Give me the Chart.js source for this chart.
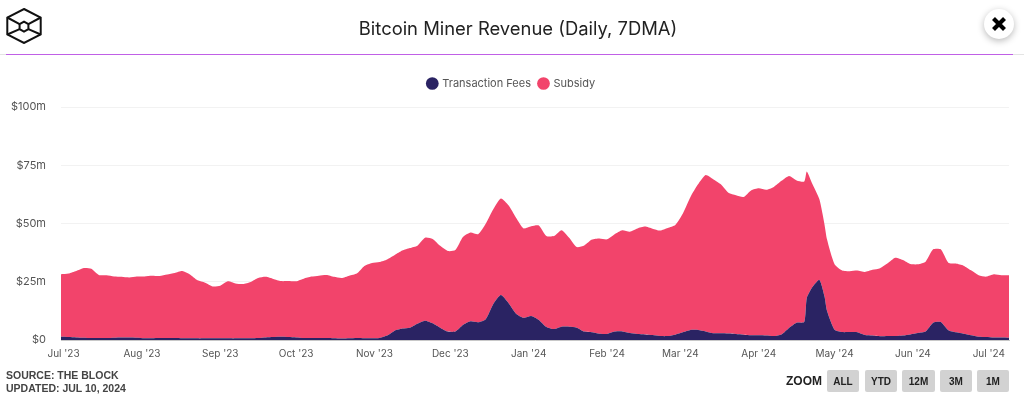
<!DOCTYPE html>
<html>
<head>
<meta charset="utf-8">
<title>Bitcoin Miner Revenue</title>
<script src="https://cdn.jsdelivr.net/npm/chart.js@4"></script>
<style>
  html,body{margin:0;padding:0;background:#fff;width:1024px;height:405px;overflow:hidden;font-family:Inter,sans-serif}
  #chart{position:absolute;left:0;top:0}
  .abs{position:absolute}
  #title{left:0;width:1036px;top:15px;text-align:center;font-size:18.4px;color:#222;line-height:26px}
  #ruleGrey{left:0;right:0;top:54px;height:1px;background:#e4e4e4}
  #rule{left:6px;width:1007px;top:53.5px;height:1.5px;background:#c060e6}
  #close{left:984px;top:9px;width:30px;height:30px;border-radius:50%;background:#fff;box-shadow:0 2px 7px rgba(0,0,0,.28)}
  #source{left:6px;top:369px;font:bold 10.5px/12.5px "Liberation Sans",sans-serif;color:#444}
  #zoomLabel{left:786px;top:374px;font:bold 12px/14px "Liberation Sans",sans-serif;color:#222}
  .btn{top:370px;height:22px;background:#d2d2d2;border-radius:2px;text-align:center;font:bold 10px/23px "Liberation Sans",sans-serif;color:#222}
</style>
</head>
<body>
<canvas id="chart" width="1024" height="405"></canvas>

<svg class="abs" style="left:6px;top:8px" width="36" height="36" viewBox="0 0 36 36" fill="none" stroke="#111" stroke-width="2">
  <path d="M18 1 L34.7 9.5 L34.7 26.5 L18 35 L1.3 26.5 L1.3 9.5 Z"/>
  <path d="M18 13.7 L22.4 16.2 L22.4 21.2 L18 23.7 L13.6 21.2 L13.6 16.2 Z"/>
  <path d="M1.3 9.5 L13.6 16.2 M34.7 9.5 L22.4 16.2 M1.3 26.5 L13.6 21.2 M34.7 26.5 L22.4 21.2"/>
</svg>
<div class="abs" id="title">Bitcoin Miner Revenue (Daily, 7DMA)</div>
<div class="abs" id="ruleGrey"></div>
<div class="abs" id="rule"></div>
<div class="abs" id="close">
  <svg width="30" height="30" viewBox="0 0 30 30" stroke="#000" stroke-width="4.2"><path d="M9.5 9.5 L20.5 20.5 M20.5 9.5 L9.5 20.5"/></svg>
</div>
<div class="abs" id="source">SOURCE: THE BLOCK<br>UPDATED: JUL 10, 2024</div>
<div class="abs" id="zoomLabel">ZOOM</div>
<div class="abs btn" style="left:827px;width:32px">ALL</div>
<div class="abs btn" style="left:865px;width:32px">YTD</div>
<div class="abs btn" style="left:902px;width:33px">12M</div>
<div class="abs btn" style="left:940px;width:32px">3M</div>
<div class="abs btn" style="left:977px;width:32px">1M</div>

<script>
// days counted from 1 Jul 2023
const days = [-1,2,5,8,11,14,17,20,23,26,29,32,35,38,41,44,47,50,53,56,59,62,65,68,71,74,77,80,83,86,89,92,95,98,101,104,107,110,113,116,119,122,125,
  128,131,134,137,140,143,146,149,152,155,158,161,164,167,170,173,176,179,182,185,188,191,194,197,200,203,206,209,212,215,218,221,224,227,230,233,236,239,242,
  245,248,251,254,257,260,263,266,269,272,275,278,281,284,287,290,293,294,296,299,301,302,305,308,311,314,317,320,323,326,329,332,335,338,341,344,347,350,353,356,359,362,365,368,371,374];

// $m
const fees = [1.4,1.3,1.1,1.0,0.9,0.9,0.9,1.0,1.1,1.1,1.0,0.8,0.8,0.9,0.9,0.9,0.8,0.8,0.7,0.7,0.7,0.7,0.7,0.7,0.8,0.8,0.9,1.1,1.3,1.4,1.3,1.1,0.9,0.9,0.9,0.9,0.8,0.6,0.7,0.9,0.8,0.8,0.9,
  1.9,4.0,4.9,5.3,7.0,8.3,7.2,5.3,3.6,3.6,6.4,8.0,7.6,8.9,15.5,19.3,15.9,11.3,9.5,10.3,8.6,5.6,4.7,5.7,5.7,5.3,3.6,3.3,2.7,2.6,3.6,3.7,3.0,2.6,2.4,2.1,1.7,1.7,2.3,
  3.3,4.3,4.3,3.7,2.9,2.9,2.8,2.6,2.3,2.0,2.0,1.9,1.7,2.4,5.2,7.4,7.7,18.0,22.3,25.8,18.8,12.6,4.4,3.4,3.4,3.3,2.1,1.9,1.6,1.7,1.7,1.9,2.4,3.0,3.6,7.4,7.7,4.2,3.3,2.7,2.0,1.4,1.3,1.1,1.1,1.0];

const subsidy = [26.8,27.2,28.5,29.9,29.7,27.0,26.9,26.3,26.0,25.7,26.2,26.5,26.8,26.6,27.2,27.9,28.8,27.3,24.9,23.9,22.3,22.6,24.5,23.6,23.2,24.1,25.7,26.0,24.9,23.9,24.0,24.1,25.4,26.3,26.7,27.0,26.3,26.0,26.9,27.6,31.0,32.3,32.6,
  32.7,32.5,33.5,34.2,33.5,35.6,36.2,35.1,34.6,35.0,37.8,38.1,37.8,41.0,40.6,41.4,41.9,41.2,38.4,38.5,40.5,39.0,39.9,41.4,38.2,34.6,37.0,39.8,40.9,40.6,41.8,43.4,43.5,45.3,46.3,45.7,45.3,46.4,47.1,
  51.0,57.1,62.5,67.1,66.1,63.9,60.4,59.5,59.1,62.2,63.1,62.6,64.0,65.9,65.2,61.1,60.3,54.3,45.2,34.6,30.9,30.6,28.1,26.4,26.1,26.5,27.1,28.2,29.2,31.2,33.6,32.4,30.2,29.5,30.0,31.5,31.2,29.0,29.5,29.2,27.9,26.4,25.9,27.1,26.7,26.8];

const tickDays = [0,31,62,92,123,153,184,215,244,275,305,336,366];
const tickLabels = ["Jul '23","Aug '23","Sep '23","Oct '23","Nov '23","Dec '23","Jan '24","Feb '24","Mar '24","Apr '24","May '24","Jun '24","Jul '24"];
const yTicks = [0,25,50,75,100];

const pts = function(vals){ return vals.map(function(v,i){ return {x:days[i], y:v}; }); };

// legend sits lower than chart.js wants and a bit right of centre
const legendShift = { id:'legendShift',
  beforeInit:function(chart){
    const fit = chart.legend.fit;
    chart.legend.fit = function(){ fit.call(this); this.height += 8; };
  },
  afterLayout:function(chart){ chart.legend.left += 7; chart.legend.right += 7; }
};

new Chart(document.getElementById('chart').getContext('2d'), {
  type:'line',
  data:{ datasets:[
    { label:'Transaction Fees', data:pts(fees), backgroundColor:'#2a2363', borderColor:'#2a2363', borderWidth:0, pointRadius:0, fill:'origin', tension:.2 },
    { label:'Subsidy', data:pts(subsidy), backgroundColor:'#f2446b', borderColor:'#f2446b', borderWidth:0, pointRadius:0, fill:'-1', tension:.2 }
  ]},
  plugins:[legendShift],
  options:{
    responsive:false, animation:false,
    layout:{ padding:{ left:0, right:15, top:70, bottom:0 } },
    plugins:{
      tooltip:{enabled:false},
      legend:{ position:'top', align:'center', labels:{ usePointStyle:true, pointStyle:'circle', boxWidth:9, boxHeight:9, color:'#555', font:{family:'Inter', size:11}, padding:8 } }
    },
    scales:{
      x:{ type:'linear', min:-1, max:374,
        grid:{display:false}, border:{color:'#c8c8c8'},
        afterBuildTicks:function(ax){ ax.ticks = tickDays.map(function(v){ return {value:v}; }); },
        afterFit:function(ax){ ax.height = 65; },
        ticks:{ color:'#555', font:{family:'Inter', size:10}, autoSkip:false, maxRotation:0, padding:0,
          callback:function(v){ return tickLabels[tickDays.indexOf(v)]; } } },
      y:{ stacked:true, min:0, max:100,
        grid:{color:'#f2f2f2', drawTicks:false}, border:{display:false},
        afterBuildTicks:function(ax){ ax.ticks = yTicks.map(function(v){ return {value:v}; }); },
        afterFit:function(ax){ ax.width = 61; },
        ticks:{ color:'#555', font:{family:'Inter', size:11}, padding:15, callback:function(v){ return '$'+(v?v+'m':'0'); } } }
    }
  }
});
</script>
</body>
</html>
